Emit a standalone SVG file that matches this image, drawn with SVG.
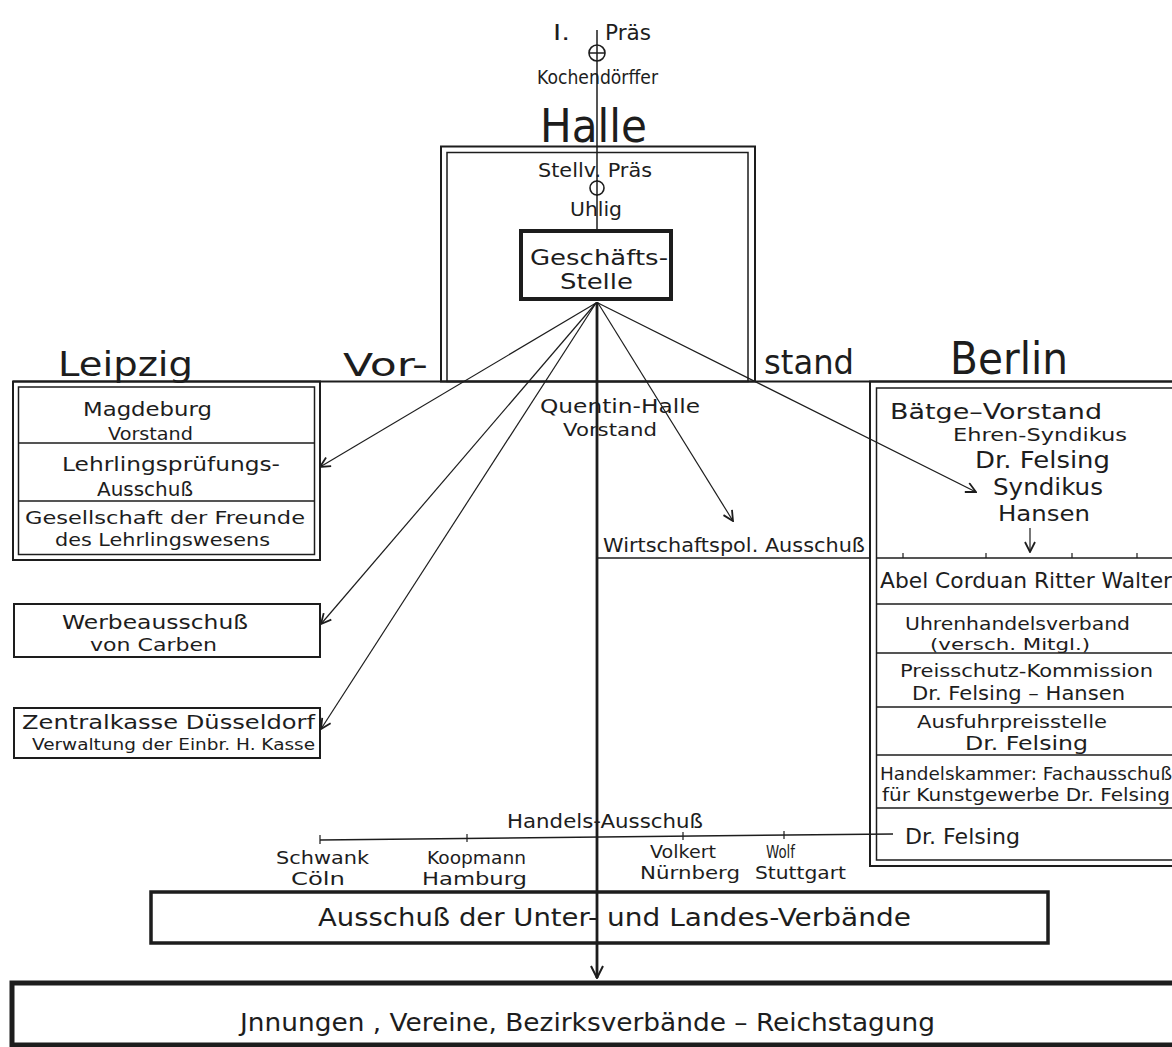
<svg xmlns="http://www.w3.org/2000/svg" width="1172" height="1047" viewBox="0 0 1172 1047">
<defs>
<style>
text{font-family:"DejaVu Sans","Liberation Sans",sans-serif;fill:#1d1d1d}
.ln{stroke:#1d1d1d;stroke-width:1.5;fill:none}
.thin{stroke:#1d1d1d;stroke-width:1.2;fill:none}
.box{stroke:#1d1d1d;stroke-width:2;fill:none}
.thick{stroke:#1d1d1d;stroke-width:4;fill:none}
</style>
<marker id="arr" viewBox="0 0 12 12" refX="11" refY="6" markerWidth="12" markerHeight="12" markerUnits="userSpaceOnUse" orient="auto">
<path d="M1,1 L11,6 L1,11" fill="none" stroke="#1d1d1d" stroke-width="1.8"/>
</marker>
<marker id="arr2" viewBox="0 0 14 14" refX="13" refY="7" markerWidth="14" markerHeight="14" markerUnits="userSpaceOnUse" orient="auto">
<path d="M1,1 L13,7 L1,13" fill="none" stroke="#1d1d1d" stroke-width="2"/>
</marker>
</defs>
<rect width="1172" height="1047" fill="#ffffff"/>

<g id="connectors">
<line class="ln" x1="597" y1="30" x2="597" y2="230"/>
<line x1="597" y1="302" x2="597" y2="978" stroke="#1d1d1d" stroke-width="2.8" marker-end="url(#arr2)"/>
<line class="thin" x1="596" y1="303" x2="320" y2="467" marker-end="url(#arr)"/>
<line class="thin" x1="596" y1="303" x2="321" y2="624" marker-end="url(#arr)"/>
<line class="thin" x1="596" y1="303" x2="321" y2="729" marker-end="url(#arr)"/>
<line class="thin" x1="598" y1="303" x2="733" y2="521" marker-end="url(#arr)"/>
<line class="thin" x1="598" y1="303" x2="976" y2="492" marker-end="url(#arr)"/>
<line class="thin" x1="1030" y1="528" x2="1030" y2="552" marker-end="url(#arr)"/>
<line class="ln" x1="320" y1="840" x2="893" y2="834"/>
<path class="thin" d="M320,835 v9 M467,834 v8 M683,832 v8 M784,831 v8"/>
</g>

<g id="vorstand-line">
<line x1="13" y1="381.5" x2="1172" y2="381.5" stroke="#1d1d1d" stroke-width="2"/>
</g>

<g id="praesident">
<text x="553" y="40" font-size="22" textLength="17" lengthAdjust="spacingAndGlyphs">I.</text>
<text x="605" y="40" font-size="21" textLength="46" lengthAdjust="spacingAndGlyphs">Präs</text>
<circle cx="597" cy="53" r="8" fill="none" stroke="#1d1d1d" stroke-width="1.6"/>
<line class="ln" x1="589" y1="53" x2="605" y2="53"/>
<text x="537" y="84" font-size="19" textLength="121" lengthAdjust="spacingAndGlyphs">Kochendörffer</text>
</g>

<g id="halle">
<rect x="441" y="146.5" width="314" height="235" fill="none" stroke="#1d1d1d" stroke-width="2"/>
<rect x="447" y="152.5" width="301" height="229" fill="none" stroke="#1d1d1d" stroke-width="1.5"/>
<text x="540" y="142" font-size="46" textLength="107" lengthAdjust="spacingAndGlyphs">Halle</text>
<text x="538" y="177" font-size="20" textLength="114" lengthAdjust="spacingAndGlyphs">Stellv. Präs</text>
<circle cx="597" cy="188" r="7" fill="#fff" stroke="#1d1d1d" stroke-width="1.6"/>
<line class="ln" x1="597" y1="180" x2="597" y2="196"/>
<text x="570" y="216" font-size="20" textLength="52" lengthAdjust="spacingAndGlyphs">Uhlig</text>
</g>

<g id="geschaeftsstelle">
<rect x="521" y="231" width="150" height="68" fill="#fff" class="thick"/>
<text x="530" y="265" font-size="22" textLength="138" lengthAdjust="spacingAndGlyphs">Geschäfts-</text>
<text x="560" y="289" font-size="22" textLength="73" lengthAdjust="spacingAndGlyphs">Stelle</text>
</g>

<g id="vorstand-labels">
<text x="58" y="376" font-size="34" textLength="135" lengthAdjust="spacingAndGlyphs">Leipzig</text>
<text x="343" y="376" font-size="32" textLength="85" lengthAdjust="spacingAndGlyphs">Vor-</text>
<text x="764" y="374" font-size="33" textLength="90" lengthAdjust="spacingAndGlyphs">stand</text>
<text x="950" y="374" font-size="44" textLength="118" lengthAdjust="spacingAndGlyphs">Berlin</text>
</g>

<g id="quentin">
<text x="540" y="413" font-size="20" textLength="160" lengthAdjust="spacingAndGlyphs">Quentin-Halle</text>
<text x="563" y="436" font-size="18" textLength="94" lengthAdjust="spacingAndGlyphs">Vorstand</text>
</g>

<g id="leipzig-box">
<rect x="13" y="381.5" width="307" height="178.5" class="box"/>
<rect x="18.5" y="387" width="296" height="167.5" fill="none" stroke="#1d1d1d" stroke-width="1.5"/>
<line class="ln" x1="18" y1="443" x2="315" y2="443"/>
<line class="ln" x1="18" y1="501" x2="315" y2="501"/>
<text x="83" y="416" font-size="19" textLength="129" lengthAdjust="spacingAndGlyphs">Magdeburg</text>
<text x="108" y="440" font-size="17" textLength="85" lengthAdjust="spacingAndGlyphs">Vorstand</text>
<text x="62" y="471" font-size="20" textLength="218" lengthAdjust="spacingAndGlyphs">Lehrlingsprüfungs-</text>
<text x="97" y="496" font-size="20" textLength="96" lengthAdjust="spacingAndGlyphs">Ausschuß</text>
<text x="25" y="524" font-size="18" textLength="280" lengthAdjust="spacingAndGlyphs">Gesellschaft der Freunde</text>
<text x="55" y="546" font-size="17" textLength="215" lengthAdjust="spacingAndGlyphs">des Lehrlingswesens</text>
</g>

<g id="werbeausschuss">
<rect x="14" y="604" width="306" height="53" class="box"/>
<text x="62" y="629" font-size="19" textLength="186" lengthAdjust="spacingAndGlyphs">Werbeausschuß</text>
<text x="90" y="651" font-size="18" textLength="127" lengthAdjust="spacingAndGlyphs">von Carben</text>
</g>

<g id="zentralkasse">
<rect x="14" y="708" width="306" height="50" class="box"/>
<text x="22" y="729" font-size="19" textLength="293" lengthAdjust="spacingAndGlyphs">Zentralkasse Düsseldorf</text>
<text x="32" y="750" font-size="16" textLength="283" lengthAdjust="spacingAndGlyphs">Verwaltung der Einbr. H. Kasse</text>
</g>

<g id="wirtschaftspol">
<text x="603" y="552" font-size="19" textLength="262" lengthAdjust="spacingAndGlyphs">Wirtschaftspol. Ausschuß</text>
<line class="ln" x1="597" y1="558" x2="870" y2="558"/>
</g>

<g id="berlin-box">
<path d="M1172,381.5 H870 V866 H1172" fill="none" stroke="#1d1d1d" stroke-width="2"/>
<path d="M1172,388 H876.5 V860 H1172" fill="none" stroke="#1d1d1d" stroke-width="1.5"/>
<text x="890" y="419" font-size="22" textLength="212" lengthAdjust="spacingAndGlyphs">Bätge–Vorstand</text>
<text x="953" y="441" font-size="18" textLength="174" lengthAdjust="spacingAndGlyphs">Ehren-Syndikus</text>
<text x="975" y="468" font-size="23" textLength="135" lengthAdjust="spacingAndGlyphs">Dr. Felsing</text>
<text x="993" y="495" font-size="23" textLength="110" lengthAdjust="spacingAndGlyphs">Syndikus</text>
<text x="998" y="521" font-size="21" textLength="92" lengthAdjust="spacingAndGlyphs">Hansen</text>
<line class="ln" x1="876" y1="558" x2="1172" y2="558"/>
<path class="thin" d="M903,558 v-5 M986,558 v-5 M1072,558 v-5 M1137,558 v-5"/>
<text x="880" y="588" font-size="21" textLength="292" lengthAdjust="spacingAndGlyphs">Abel  Corduan  Ritter  Walter</text>
<line class="ln" x1="876" y1="604" x2="1172" y2="604"/>
<text x="905" y="630" font-size="18" textLength="225" lengthAdjust="spacingAndGlyphs">Uhrenhandelsverband</text>
<text x="930" y="650" font-size="16" textLength="160" lengthAdjust="spacingAndGlyphs">(versch. Mitgl.)</text>
<line class="ln" x1="876" y1="653" x2="1172" y2="653"/>
<text x="900" y="677" font-size="18" textLength="253" lengthAdjust="spacingAndGlyphs">Preisschutz-Kommission</text>
<text x="912" y="700" font-size="19" textLength="213" lengthAdjust="spacingAndGlyphs">Dr. Felsing – Hansen</text>
<line class="ln" x1="876" y1="707" x2="1172" y2="707"/>
<text x="917" y="728" font-size="18" textLength="190" lengthAdjust="spacingAndGlyphs">Ausfuhrpreisstelle</text>
<text x="965" y="750" font-size="20" textLength="123" lengthAdjust="spacingAndGlyphs">Dr. Felsing</text>
<line class="ln" x1="876" y1="755" x2="1172" y2="755"/>
<text x="880" y="780" font-size="17" textLength="292" lengthAdjust="spacingAndGlyphs">Handelskammer: Fachausschuß</text>
<text x="882" y="801" font-size="17" textLength="288" lengthAdjust="spacingAndGlyphs">für Kunstgewerbe  Dr. Felsing</text>
<line class="ln" x1="876" y1="808" x2="1172" y2="808"/>
<text x="905" y="844" font-size="22" textLength="115" lengthAdjust="spacingAndGlyphs">Dr. Felsing</text>
</g>

<g id="handelsausschuss">
<text x="507" y="828" font-size="19" textLength="196" lengthAdjust="spacingAndGlyphs">Handels-Ausschuß</text>
<text x="276" y="864" font-size="18" textLength="93" lengthAdjust="spacingAndGlyphs">Schwank</text>
<text x="291" y="885" font-size="18" textLength="54" lengthAdjust="spacingAndGlyphs">Cöln</text>
<text x="427" y="864" font-size="17" textLength="99" lengthAdjust="spacingAndGlyphs">Koopmann</text>
<text x="422" y="885" font-size="17" textLength="105" lengthAdjust="spacingAndGlyphs">Hamburg</text>
<text x="650" y="858" font-size="17" textLength="66" lengthAdjust="spacingAndGlyphs">Volkert</text>
<text x="640" y="879" font-size="18" textLength="100" lengthAdjust="spacingAndGlyphs">Nürnberg</text>
<text x="766" y="858" font-size="17" textLength="29" lengthAdjust="spacingAndGlyphs">Wolf</text>
<text x="755" y="879" font-size="18" textLength="91" lengthAdjust="spacingAndGlyphs">Stuttgart</text>
</g>

<g id="unter-landes-verbaende">
<rect x="151" y="892" width="897" height="51" fill="none" stroke="#1d1d1d" stroke-width="3.5"/>
<text x="318" y="926" font-size="25" textLength="280" lengthAdjust="spacingAndGlyphs">Ausschuß der Unter-</text>
<text x="607" y="926" font-size="25" textLength="304" lengthAdjust="spacingAndGlyphs">und Landes-Verbände</text>
</g>

<g id="innungen">
<path d="M1172,983 H12 V1045 H1172" fill="none" stroke="#1d1d1d" stroke-width="5"/>
<text x="240" y="1031" font-size="25" textLength="695" lengthAdjust="spacingAndGlyphs">Jnnungen , Vereine, Bezirksverbände – Reichstagung</text>
</g>
</svg>
